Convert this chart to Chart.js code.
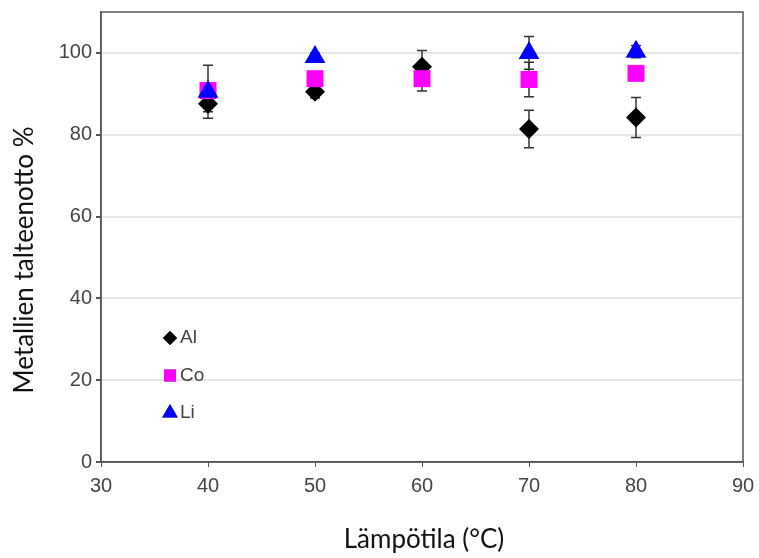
<!DOCTYPE html>
<html>
<head>
<meta charset="utf-8">
<script src="https://cdn.jsdelivr.net/npm/chart.js@4"></script>
<style>
  html, body { margin: 0; padding: 0; background: #fff; }
  #wrap { width: 759px; height: 558px; }
</style>
</head>
<body>
<div id="wrap"><canvas id="chart"></canvas></div>
<script>
// Lämpötila (°C)
const lampotilat = [40, 50, 60, 70, 80];

// Metallien talteenotto % + virhepalkit
const alArvot = [87.6, 90.5, 96.6, 81.4, 84.2];
const alVirhe = [2.0, 1.5, 4.0, 4.6, 4.9];
const coArvot = [90.8, 93.7, 93.7, 93.5, 95.0];
const coVirhe = [1.5, 1.5, 3.0, 4.2, 1.5];
const liArvot = [90.5, 99.0, null, 100.0, 100.3];
const liVirhe = [6.5, 1.0, 0, 4.0, 1.5];

const xTicks = [30, 40, 50, 60, 70, 80, 90];
const yTicks = [0, 20, 40, 60, 80, 100];

const xOtsikko = 'Lämpötila (°C)';
const yOtsikko = 'Metallien talteenotto %';

// order: pienempi piirretään päällimmäiseksi
const sarjat = [
  { nimi: 'Al', arvot: alArvot, virhe: alVirhe, vari: '#000000', tyyli: 'rectRot', r: 10, order: 3 },
  { nimi: 'Co', arvot: coArvot, virhe: coVirhe, vari: '#ff00ff', tyyli: 'rect', r: 12, order: 2 },
  { nimi: 'Li', arvot: liArvot, virhe: liVirhe, vari: '#0000ff', tyyli: 'triangle', r: 12, order: 1 }
];

// Virhepalkit piirretään ennen pisteitä
const virhePlugin = {
  id: 'virhePlugin',
  beforeDatasetsDraw(chart) {
    const { ctx, scales: { x, y } } = chart;
    ctx.save();
    ctx.strokeStyle = '#333';
    ctx.lineWidth = 1.5;
    chart.data.datasets.forEach((ds) => {
      ds.data.forEach((p, i) => {
        if (p.y === null) return;
        const e = ds.virhe[i];
        if (!e) return;
        const px = x.getPixelForValue(p.x);
        const y1 = y.getPixelForValue(p.y + e);
        const y2 = y.getPixelForValue(p.y - e);
        ctx.beginPath();
        ctx.moveTo(px, y1); ctx.lineTo(px, y2);
        ctx.moveTo(px - 5, y1); ctx.lineTo(px + 5, y1);
        ctx.moveTo(px - 5, y2); ctx.lineTo(px + 5, y2);
        ctx.stroke();
      });
    });
    ctx.restore();
  }
};

// Kehys, selite ja akselien otsikot
const kehysPlugin = {
  id: 'kehysPlugin',
  afterDraw(chart) {
    const { ctx, chartArea: a } = chart;
    ctx.save();
    ctx.strokeStyle = '#555';
    ctx.lineWidth = 1.5;
    ctx.strokeRect(a.left, a.top, a.right - a.left, a.bottom - a.top);

    // selite
    ctx.textBaseline = 'middle';
    sarjat.forEach((s, i) => {
      const mx = a.left + 69;
      const my = a.top + 326 + i * 37.5;
      Chart.helpers.drawPoint(ctx, {
        pointStyle: s.tyyli,
        radius: s.tyyli === 'rect' ? 8.5 : (s.tyyli === 'triangle' ? 9 : 7),
        borderWidth: 0
      }, mx, my);
      ctx.fillStyle = s.vari;
      ctx.fill();
      ctx.font = '19px "Liberation Sans", Arial, sans-serif';
      ctx.fillStyle = '#444';
      ctx.textAlign = 'left';
      ctx.fillText(s.nimi, mx + 10, my);
    });

    // otsikot
    ctx.fillStyle = '#111';
    ctx.font = '26px Lato, "Open Sans", sans-serif';
    ctx.textAlign = 'center';
    ctx.fillText(xOtsikko, 424, 540);
    ctx.translate(25, 260);
    ctx.rotate(-Math.PI / 2);
    ctx.fillText(yOtsikko, 0, 0);
    ctx.restore();
  }
};

const tickFont = { family: '"Liberation Sans", Arial, sans-serif', size: 20 };

new Chart(document.getElementById('chart'), {
  type: 'scatter',
  data: {
    datasets: sarjat.map((s) => ({
      label: s.nimi,
      data: lampotilat.map((t, i) => ({ x: t, y: s.arvot[i] })),
      virhe: s.virhe,
      order: s.order,
      pointStyle: s.tyyli,
      pointRadius: s.r,
      pointHoverRadius: s.r,
      backgroundColor: s.vari,
      borderColor: s.vari,
      borderWidth: 0
    }))
  },
  options: {
    responsive: true,
    maintainAspectRatio: false,
    animation: false,
    layout: { padding: { top: 7, right: 16, left: 0, bottom: 0 } },
    plugins: {
      legend: { display: false },
      tooltip: { enabled: false }
    },
    scales: {
      x: {
        type: 'linear',
        min: 30,
        max: 90,
        afterBuildTicks: (sc) => { sc.ticks = xTicks.map((v) => ({ value: v })); },
        afterFit: (sc) => { sc.height = 96; sc.paddingLeft = 0; sc.paddingRight = 0; },
        grid: { drawOnChartArea: false, drawTicks: true, tickLength: 5, tickColor: '#555' },
        border: { display: true, color: '#555', width: 1.5 },
        ticks: { font: tickFont, color: '#444', padding: 7, maxRotation: 0 }
      },
      y: {
        min: 0,
        max: 110,
        afterBuildTicks: (sc) => { sc.ticks = yTicks.map((v) => ({ value: v })); },
        afterFit: (sc) => { sc.width = 101; sc.paddingTop = 0; sc.paddingBottom = 0; },
        grid: { color: (c) => (c.tick && c.tick.value === 0 ? 'rgba(0,0,0,0)' : '#e6e6e6'), lineWidth: 2, tickLength: 5, tickColor: '#555' },
        border: { display: true, color: '#555', width: 1.5 },
        ticks: { font: tickFont, color: '#444', padding: 4 }
      }
    }
  },
  plugins: [virhePlugin, kehysPlugin]
});
</script>
</body>
</html>
